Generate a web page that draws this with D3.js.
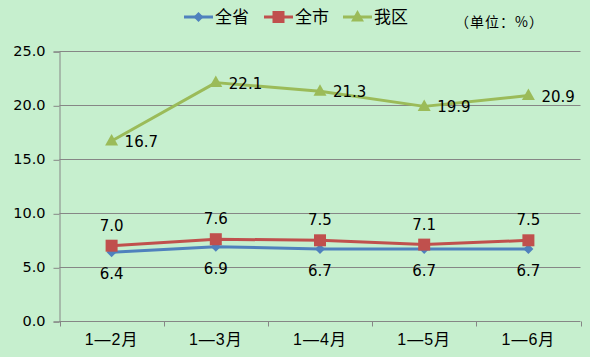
<!DOCTYPE html>
<html><head><meta charset="utf-8">
<script src="https://cdn.jsdelivr.net/npm/d3@7"></script>
<style>
body{margin:0;background:#C6EFCE;}
svg{display:block;}
</style></head>
<body><svg id="c" width="590" height="357"></svg>
<script>
const categories = ["1—2月","1—3月","1—4月","1—5月","1—6月"];
const seriesNames = ["全省","全市","我区"];
const provinceValues = [6.4,6.9,6.7,6.7,6.7];
const cityValues = [7.0,7.6,7.5,7.1,7.5];
const districtValues = [16.7,22.1,21.3,19.9,20.9];
const yTicks = [0,5,10,15,20,25];
const unitLabel = "（单位：%）";

const colors = ["#4F81BD","#C0504D","#9BBB59"];
const series = [
  {name:seriesNames[0], values:provinceValues, color:colors[0], shape:"diamond", label:"below"},
  {name:seriesNames[1], values:cityValues, color:colors[1], shape:"square", label:"above"},
  {name:seriesNames[2], values:districtValues, color:colors[2], shape:"triangle", label:"right"}
];

const svg = d3.select("#c");
const W=590,H=357;
svg.append("rect").attr("width",W).attr("height",H).attr("fill","#C6EFCE");

const x0=59.5, x1=580.5, yTop=51.3, yBot=321.3;
const x = d3.scaleBand().domain(categories).range([x0,x1]);
const y = d3.scaleLinear().domain([0,25]).range([yBot,yTop]);

const numFont = "'DejaVu Sans', sans-serif";
const cjkFont = "'Noto Sans CJK SC', sans-serif";
const axisFont = "'Liberation Sans','Noto Sans CJK SC', sans-serif";

const yAxis = d3.axisLeft(y).tickValues(yTicks).tickFormat(d3.format(".1f")).tickSize(6).tickPadding(8);
const gy = svg.append("g").attr("transform",`translate(${x0},0)`).call(yAxis);
gy.select(".domain").attr("stroke","#868686");
gy.selectAll(".tick line").attr("stroke","#868686");
gy.selectAll(".tick text").attr("font-family",numFont).attr("font-size",14.5).attr("fill","#000");
svg.append("g").selectAll("line").data(yTicks.filter(d=>d>0)).join("line")
  .attr("x1",x0).attr("x2",x1).attr("y1",d=>Math.round(y(d))+0.5).attr("y2",d=>Math.round(y(d))+0.5)
  .attr("stroke","#868686").attr("stroke-width",1);
gy.selectAll(".tick line").attr("transform","translate(0,0.5)");

const xAxis = d3.axisBottom(x).tickSize(0).tickPadding(12);
const gx = svg.append("g").attr("transform",`translate(0,${Math.round(yBot)+0.5})`).call(xAxis);
gx.select(".domain").attr("stroke","#868686").attr("d",`M${x0},0H${x1}`);
gx.selectAll(".tick text").attr("font-family",axisFont).attr("font-size",16).attr("fill","#000")
  .attr("letter-spacing",1);
const bounds = categories.map(c=>x(c)).concat([x1]);
gx.append("g").selectAll("line").data(bounds).join("line")
  .attr("x1",d=>Math.round(d)+0.5).attr("x2",d=>Math.round(d)+0.5).attr("y1",0).attr("y2",5)
  .attr("stroke","#868686");

const cx = c => x(c)+x.bandwidth()/2;
const line = d3.line().x((d,i)=>cx(categories[i])).y(d=>y(d));

function marker(g, shape, color, px, py){
  if(shape==="diamond"){
    g.append("path").attr("d",`M${px},${py-5}L${px+5},${py}L${px},${py+5}L${px-5},${py}Z`).attr("fill",color);
  } else if(shape==="square"){
    g.append("rect").attr("x",px-6).attr("y",py-6).attr("width",12).attr("height",12).attr("fill",color);
  } else {
    g.append("path").attr("d",`M${px},${py-7}L${px+6.5},${py+4.5}L${px-6.5},${py+4.5}Z`).attr("fill",color);
  }
}

series.forEach(s=>{
  const g = svg.append("g");
  g.append("path").datum(s.values).attr("d",line).attr("fill","none")
    .attr("stroke",s.color).attr("stroke-width",3).attr("stroke-linejoin","round");
  s.values.forEach((v,i)=>{
    const px=cx(categories[i]), py=y(v);
    marker(g,s.shape,s.color,px,py);
    const t = g.append("text").attr("font-family",numFont).attr("font-size",15).attr("fill","#000")
      .text(d3.format(".1f")(v));
    if(s.label==="below") t.attr("x",px).attr("y",py+27).attr("text-anchor","middle");
    else if(s.label==="above") t.attr("x",px).attr("y",py-15).attr("text-anchor","middle");
    else t.attr("x",px+13).attr("y",py+6).attr("text-anchor","start");
  });
});

const legendX = [184,264,343];
const lg = svg.append("g");
series.forEach((s,i)=>{
  const lx = legendX[i], ly=17;
  lg.append("line").attr("x1",lx).attr("x2",lx+29).attr("y1",ly).attr("y2",ly)
    .attr("stroke",s.color).attr("stroke-width",3);
  marker(lg,s.shape,s.color,lx+14.5,ly);
  lg.append("text").attr("x",lx+31).attr("y",ly+6).attr("font-family",cjkFont)
    .attr("font-size",17).attr("fill","#000").text(s.name);
});
svg.append("text").attr("x",455).attr("y",27).attr("font-family",cjkFont)
  .attr("font-size",14).attr("letter-spacing",1).attr("fill","#000").text(unitLabel);
</script></body></html>
